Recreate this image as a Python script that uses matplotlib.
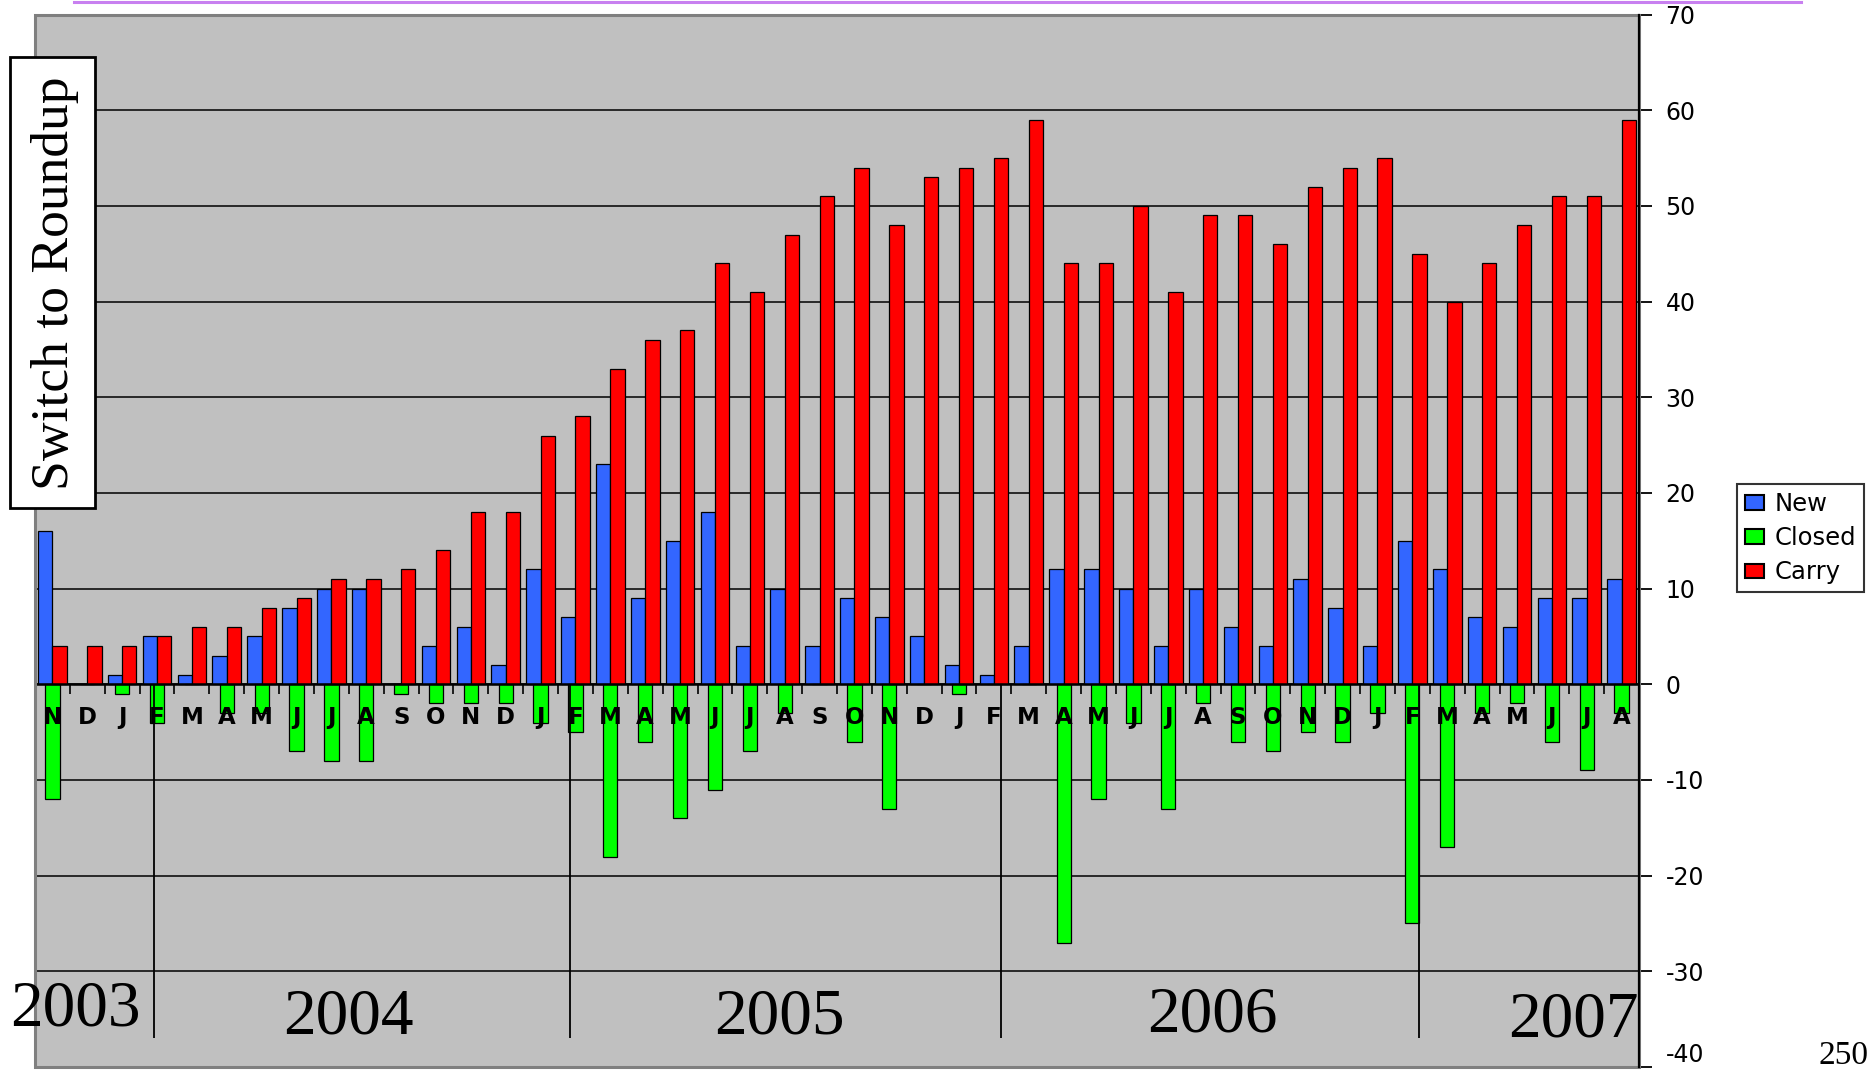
import matplotlib
matplotlib.use("Agg")
import matplotlib.pyplot as plt
from matplotlib.patches import Rectangle, Patch
from matplotlib.lines import Line2D
import numpy as np

plt.rcParams["axes.unicode_minus"] = False

# Monthly bug counts, Nov 2003 - Aug 2007
months = ["N", "D",
          "J", "F", "M", "A", "M", "J", "J", "A", "S", "O", "N", "D",
          "J", "F", "M", "A", "M", "J", "J", "A", "S", "O", "N", "D",
          "J", "F", "M", "A", "M", "J", "J", "A", "S", "O", "N", "D",
          "J", "F", "M", "A", "M", "J", "J", "A"]
new = [16, 0,
       1, 5, 1, 3, 5, 8, 10, 10, 0, 4, 6, 2,
       12, 7, 23, 9, 15, 18, 4, 10, 4, 9, 7, 5,
       2, 1, 4, 12, 12, 10, 4, 10, 6, 4, 11, 8,
       4, 15, 12, 7, 6, 9, 9, 11]
closed = [-12, 0,
          -1, -4, 0, -3, -3, -7, -8, -8, -1, -2, -2, -2,
          -4, -5, -18, -6, -14, -11, -7, -3, 0, -6, -13, 0,
          -1, 0, 0, -27, -12, -4, -13, -2, -6, -7, -5, -6,
          -3, -25, -17, -3, -2, -6, -9, -3]
carry = [4, 4,
         4, 5, 6, 6, 8, 9, 11, 11, 12, 14, 18, 18,
         26, 28, 33, 36, 37, 44, 41, 47, 51, 54, 48, 53,
         54, 55, 59, 44, 44, 50, 41, 49, 49, 46, 52, 54,
         55, 45, 40, 44, 48, 51, 51, 59]
series_names = ["New", "Closed", "Carry"]
series_colors = ["#3366FF", "#00FF00", "#FF0000"]

years = ["2003", "2004", "2005", "2006", "2007"]
year_label_x = [0.65, 8.5, 20.85, 33.27, 43.63]
year_label_y = [-34.0, -34.9, -34.9, -34.6, -35.2]
year_breaks = [2.9, 14.85, 27.2, 39.2]

W, H = 1873, 1077
fig = plt.figure(figsize=(W / 100, H / 100), dpi=100)
fig.patch.set_facecolor("white")

ax = fig.add_axes([35 / W, 1 - 1067 / H, (1639 - 35) / W, (1067 - 14.5) / H])
ax.set_facecolor("#C0C0C0")

x = np.arange(len(months))
w = 0.41
bar_kw = dict(edgecolor="black", linewidth=0.9, zorder=3)
ax.bar(x - w / 2, new, w, color=series_colors[0], **bar_kw)
ax.bar(x, closed, w, color=series_colors[1], **bar_kw)
ax.bar(x + w / 2, carry, w, color=series_colors[2], **bar_kw)

ax.set_xlim(-0.5, len(months) - 0.5)
ax.set_ylim(-40, 70)

# y axis on the right
ax.yaxis.tick_right()
ax.set_yticks(range(-40, 71, 10))
ax.tick_params(axis="y", direction="out", length=9, width=1.3, pad=10,
               labelsize=17, colors="black")
for lbl in ax.get_yticklabels():
    lbl.set_family("DejaVu Sans")
# lowest label sits just above the page edge
ax.yaxis.get_major_ticks()[0].label2.set_verticalalignment("bottom")
ax.grid(axis="y", color="black", linewidth=1.1, zorder=1)
ax.set_axisbelow(True)
gl = ax.yaxis.get_gridlines()
gl[0].set_visible(False)
gl[-1].set_visible(False)

# x axis runs along zero, tick marks between categories
ax.spines["bottom"].set_position(("data", 0))
ax.spines["bottom"].set_linewidth(1.8)
ax.spines["bottom"].set_zorder(4)
ax.set_xticks(np.arange(-0.5, len(months), 1.0))
ax.set_xticklabels([])
ax.tick_params(axis="x", direction="out", length=7, width=1.2, colors="black")
ax.spines["top"].set_visible(False)
ax.spines["left"].set_visible(False)
ax.spines["right"].set_linewidth(1.6)
ax.spines["right"].set_zorder(6)

# plot-area frame
ax.add_patch(Rectangle((0, 0), 1, 1, transform=ax.transAxes, fill=False,
                       edgecolor="#7F7F7F", linewidth=2.2, clip_on=False, zorder=5))

# month letters
for i, m in enumerate(months):
    ax.text(i, -3.5, m, ha="center", va="center", fontsize=16.5,
            fontweight="bold", family="DejaVu Sans", zorder=6)

# year separators and labels
ax.vlines(year_breaks, -37, 0, color="black", linewidth=1.3, zorder=4)
for yl, xx, yy in zip(years, year_label_x, year_label_y):
    ax.text(xx, yy, yl, ha="center", va="center", fontsize=47,
            family="Liberation Serif", zorder=6)

# side caption box
fig.patches.append(Rectangle((10 / W, 1 - 508 / H), 85 / W, 451 / H,
                             transform=fig.transFigure, facecolor="white",
                             edgecolor="black", linewidth=2, zorder=10))
fig.text(55 / W, 1 - 283 / H, "Switch to Roundup", rotation=90,
         ha="center", va="center", fontsize=38.5, family="Liberation Serif",
         zorder=11)

# legend
handles = [Patch(facecolor=c, edgecolor="black", linewidth=1.5) for c in series_colors]
leg = fig.legend(handles, series_names, loc="upper left",
                 bbox_to_anchor=(1737 / W, 1 - 484 / H),
                 frameon=True, fancybox=False, edgecolor="black",
                 prop={"family": "DejaVu Sans", "size": 17.5},
                 handlelength=0.8, handleheight=0.55, handletextpad=0.4,
                 labelspacing=0.42, borderpad=0.33, borderaxespad=0)
leg.get_frame().set_linewidth(1.5)

# page number and header rule
fig.text(1869 / W, 1 - 1056 / H, "250", ha="right", va="center",
         fontsize=24, family="Liberation Serif")
fig.add_artist(Line2D([74 / W, 1801 / W], [1 - 1.5 / H] * 2,
                      transform=fig.transFigure, color="#C880F0", linewidth=2.2))

fig.savefig("out.png", dpi=100)
